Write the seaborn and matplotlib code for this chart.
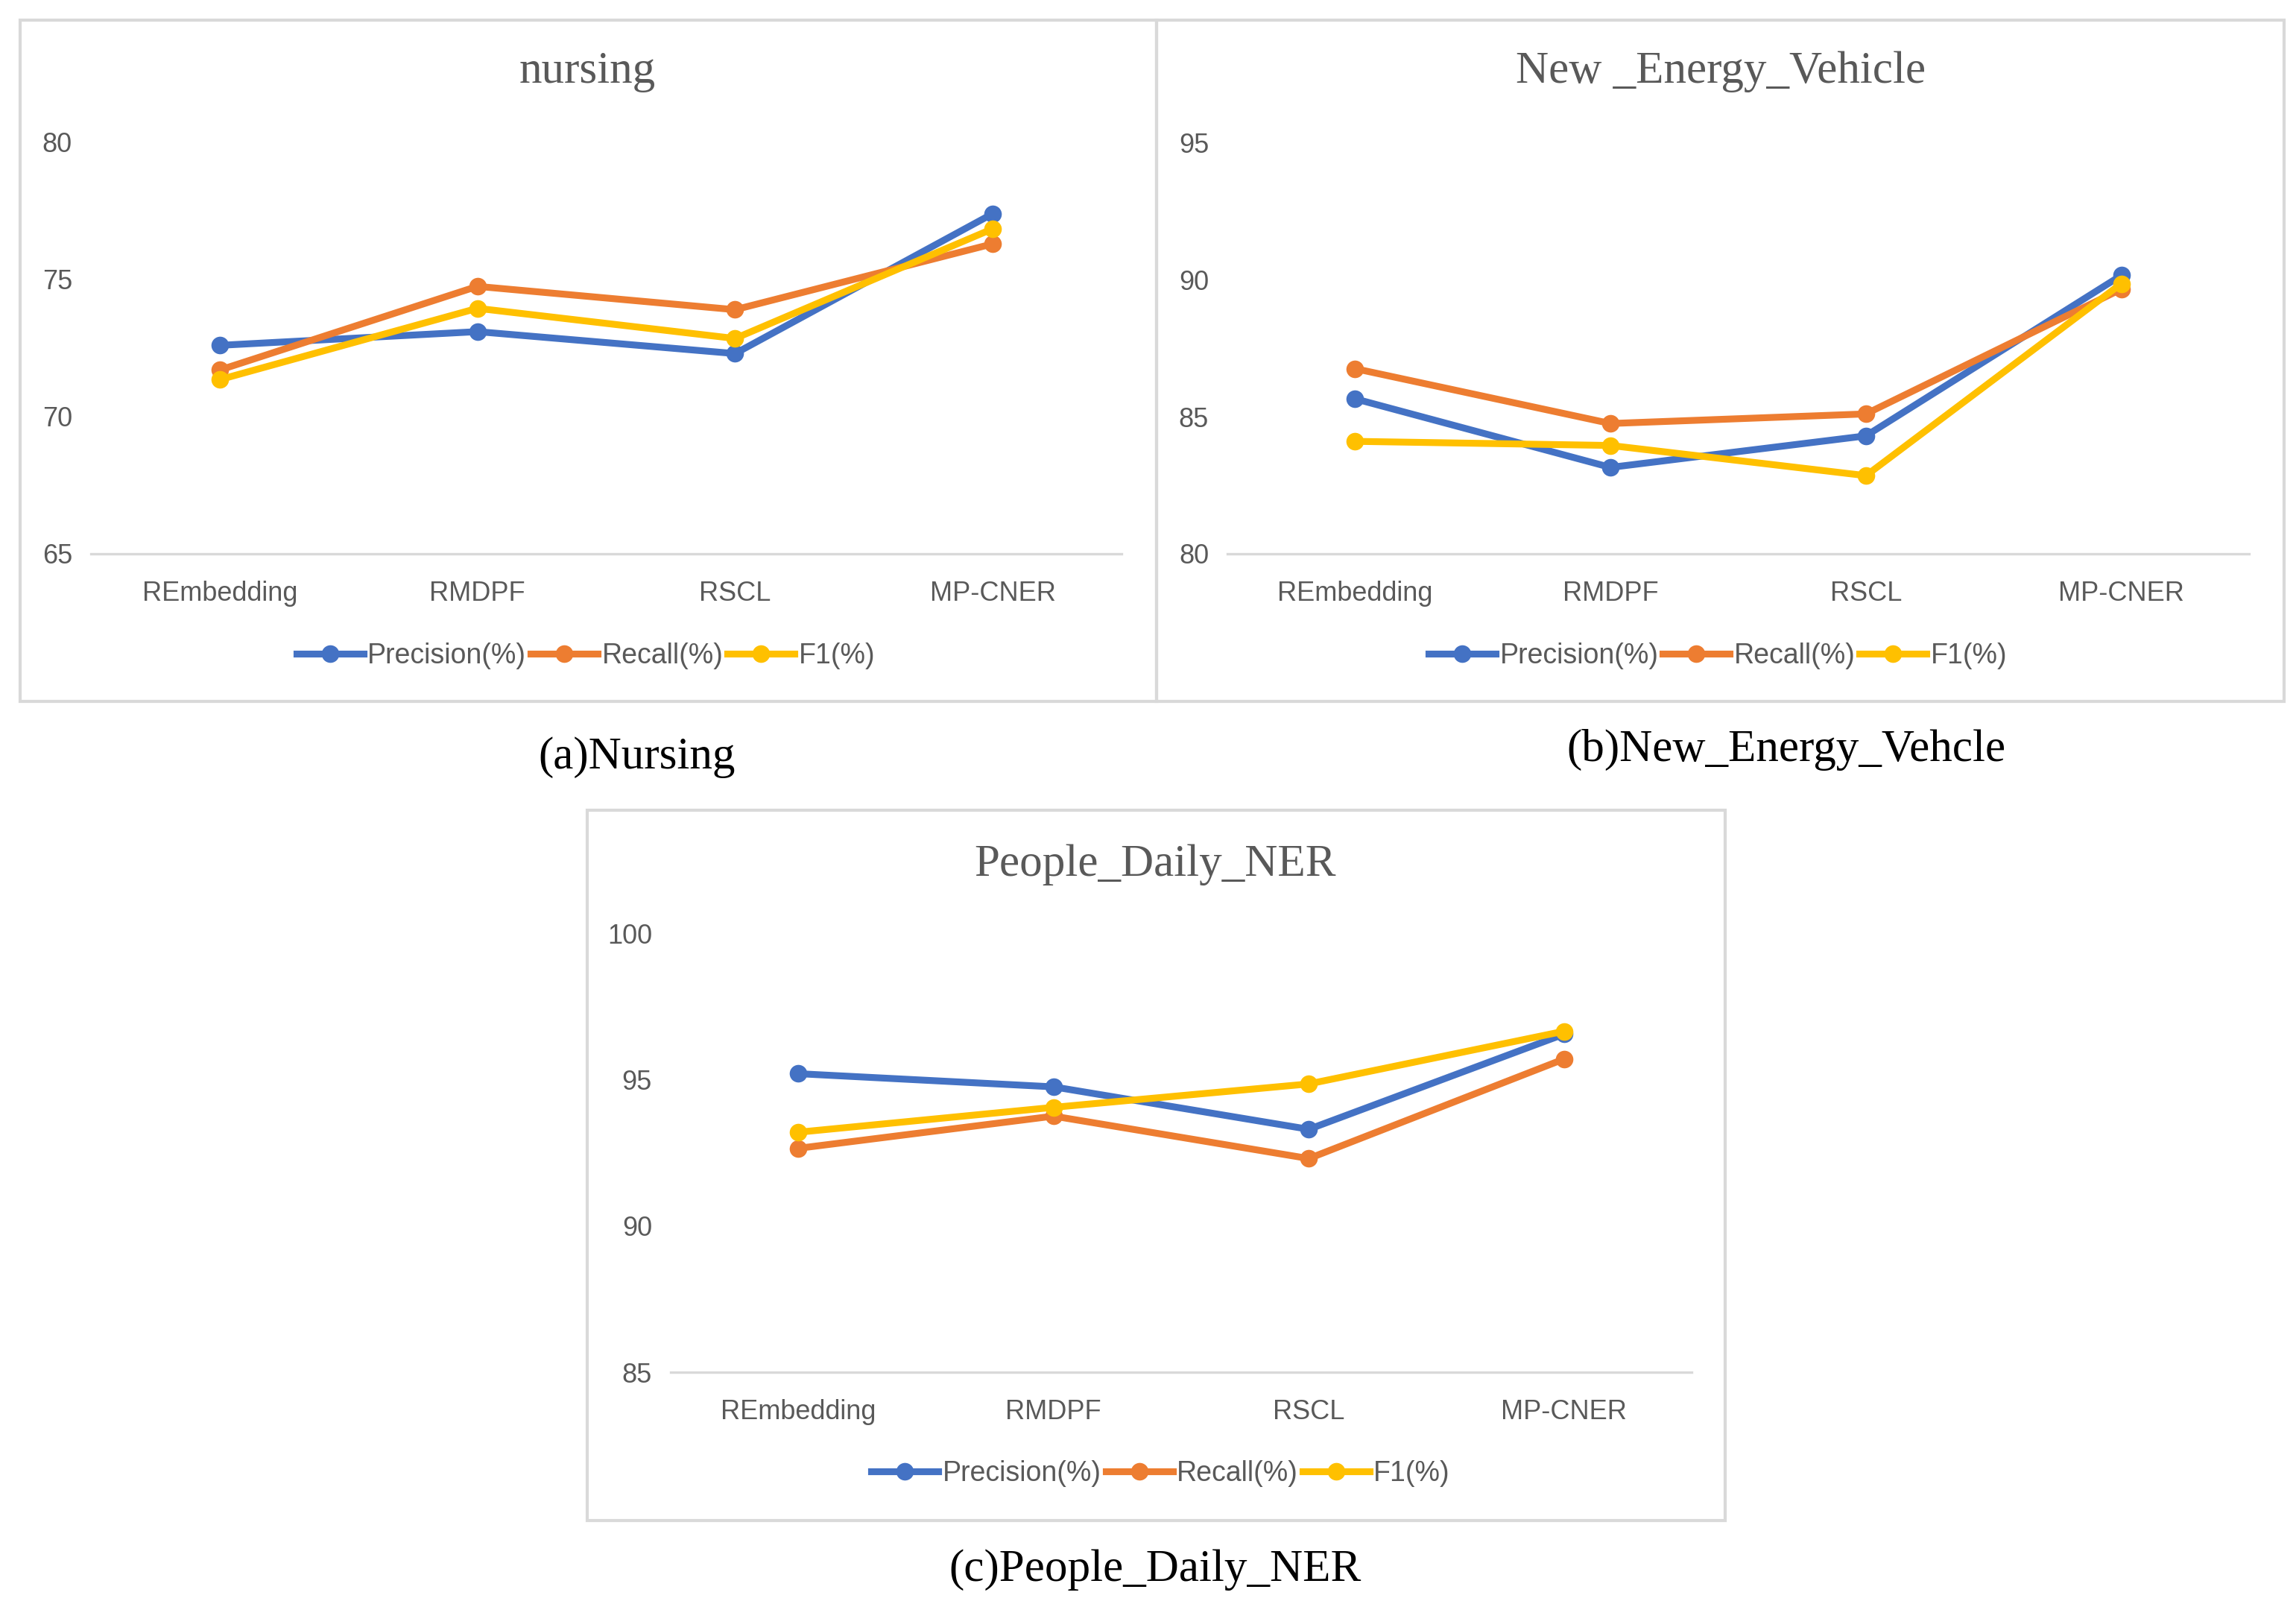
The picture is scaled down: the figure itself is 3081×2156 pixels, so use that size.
import pandas as pd
import seaborn as sns
import matplotlib.pyplot as plt
from matplotlib.patches import Rectangle

models = ["REmbedding", "RMDPF", "RSCL", "MP-CNER"]
metrics = ["Precision(%)", "Recall(%)", "F1(%)"]
colors = ["#4472C4", "#ED7D31", "#FFC000"]

# nursing
nursing_precision = [72.6, 73.1, 72.3, 77.4]
nursing_recall = [71.7, 74.75, 73.9, 76.3]
nursing_f1 = [71.35, 73.95, 72.85, 76.85]

# New_Energy_Vehicle
nev_precision = [85.65, 83.15, 84.3, 90.15]
nev_recall = [86.75, 84.75, 85.1, 89.65]
nev_f1 = [84.1, 83.95, 82.85, 89.85]

# People_Daily_NER
pd_precision = [95.2, 94.75, 93.3, 96.55]
pd_recall = [92.65, 93.75, 92.3, 95.7]
pd_f1 = [93.2, 94.05, 94.85, 96.65]


def long_frame(precision, recall, f1):
    rows = []
    for metric, vals in zip(metrics, [precision, recall, f1]):
        for m, v in zip(models, vals):
            rows.append({"model": m, "metric": metric, "value": v})
    return pd.DataFrame(rows)


W, H = 3081, 2156
DPI = 200
fig = plt.figure(figsize=(W / DPI, H / DPI), dpi=DPI)

sans = "Liberation Sans"
serif = "Liberation Serif"
grey = "#595959"


def px_axes(x0, x1, ytop, ybot):
    return fig.add_axes([x0 / W, 1 - ybot / H, (x1 - x0) / W, (ybot - ytop) / H])


def draw_panel(ax, df, ylim, yticks, legend_y):
    sns.lineplot(
        df, x="model", y="value", hue="metric", hue_order=metrics,
        palette=colors, marker="o", markersize=8.5, markeredgewidth=0,
        linewidth=3.3, ax=ax, sort=False,
    )
    ax.set_xlim(-0.5, 3.5)
    ax.set_ylim(*ylim)
    ax.set_yticks(yticks)
    ax.set_xlabel(None)
    ax.set_ylabel(None)
    for s in ["top", "left", "right"]:
        ax.spines[s].set_visible(False)
    ax.spines["bottom"].set_color("#D9D9D9")
    ax.spines["bottom"].set_linewidth(1.2)
    ax.tick_params(length=0, labelsize=13, labelcolor=grey)
    ax.tick_params(axis="x", pad=13)
    ax.tick_params(axis="y", pad=9)
    for lab in ax.get_xticklabels() + ax.get_yticklabels():
        lab.set_fontfamily(sans)
    handles, labels = ax.get_legend_handles_labels()
    ax.legend(
        handles, labels, loc="center", bbox_to_anchor=(0.48, legend_y), ncol=3,
        frameon=False, handlelength=2.4, handletextpad=0.15, columnspacing=0.15,
        prop={"family": sans, "size": 13.5}, labelcolor=grey,
    )


# panel boxes
for (x0, y0, x1, y1) in [(27, 27, 1552, 941), (1552, 27, 3065, 941), (788, 1087, 2315, 2040)]:
    fig.patches.append(Rectangle((x0 / W, 1 - y1 / H), (x1 - x0) / W, (y1 - y0) / H,
                                 transform=fig.transFigure, fill=False,
                                 edgecolor="#D9D9D9", linewidth=1.5))

ax_a = px_axes(122, 1505, 191, 743)
draw_panel(ax_a, long_frame(nursing_precision, nursing_recall, nursing_f1),
           (65, 80), [65, 70, 75, 80], -0.248)

ax_b = px_axes(1647, 3018, 191, 743)
draw_panel(ax_b, long_frame(nev_precision, nev_recall, nev_f1),
           (80, 95), [80, 85, 90, 95], -0.248)

ax_c = px_axes(900, 2270, 1252, 1841)
draw_panel(ax_c, long_frame(pd_precision, pd_recall, pd_f1),
           (85, 100), [85, 90, 95, 100], -0.231)

# titles
for x, y, t in [(788, 96, "nursing"), (2309, 96, "New _Energy_Vehicle"), (1550, 1160, "People_Daily_NER")]:
    fig.text(x / W, 1 - y / H, t, ha="center", va="center", fontsize=22,
             family=serif, color=grey)

# captions
for x, y, t in [(855, 1016, "(a)Nursing"), (2397, 1006, "(b)New_Energy_Vehcle"), (1550, 2106, "(c)People_Daily_NER")]:
    fig.text(x / W, 1 - y / H, t, ha="center", va="center", fontsize=22,
             family=serif, color="black")

fig.savefig("out.png", dpi=DPI, facecolor="white")
